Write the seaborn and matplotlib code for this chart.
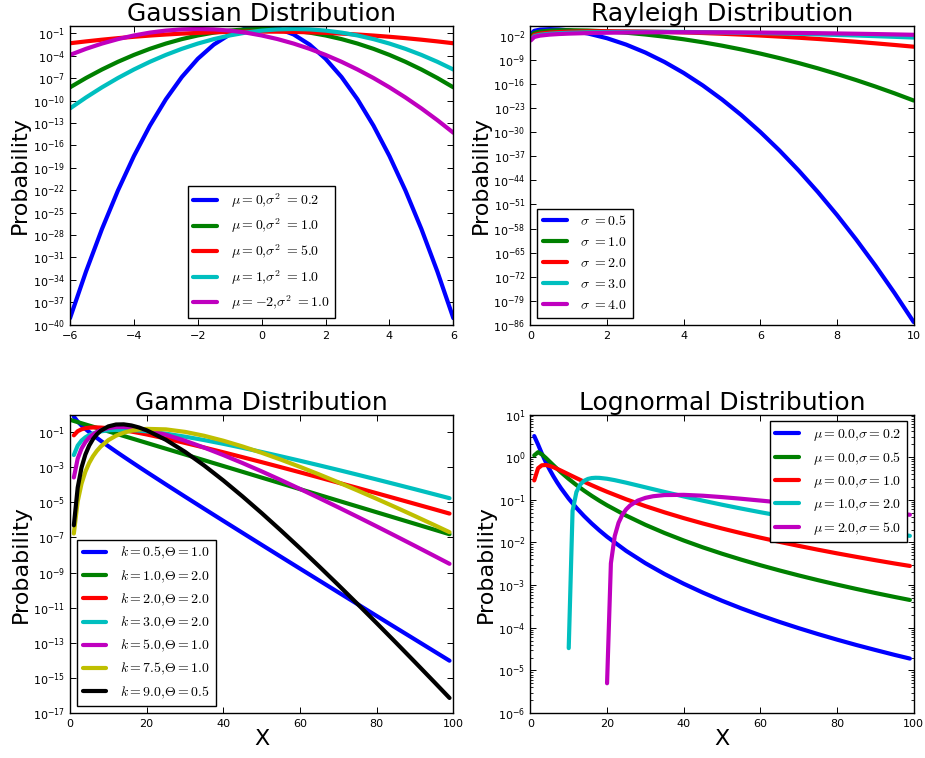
import numpy as np
import pandas as pd
import matplotlib
matplotlib.use("Agg")
import matplotlib.pyplot as plt
import seaborn as sns
from matplotlib.ticker import FixedLocator, NullLocator, LogLocator

nan = float("nan")

# ---------------- Gaussian ----------------
gauss_x = [-6.0, -5.5, -5.0, -4.5, -4.0, -3.5, -3.0, -2.5, -2.0, -1.5, -1.0, -0.5, 0.0,
           0.5, 1.0, 1.5, 2.0, 2.5, 3.0, 3.5, 4.0, 4.5, 5.0, 5.5, 6.0]
gauss_m0_v02 = [7.31e-40, 1.28e-33, 6.41e-28, 9.23e-23, 3.79e-18, 4.47e-14, 1.51e-10, 1.46e-7, 4.05e-5,
                3.22e-3, 7.32e-2, 0.477, 0.892,
                0.477, 7.32e-2, 3.22e-3, 4.05e-5, 1.46e-7, 1.51e-10, 4.47e-14, 3.79e-18, 9.23e-23,
                6.41e-28, 1.28e-33, 7.31e-40]
gauss_m0_v1 = [6.08e-9, 1.08e-7, 1.49e-6, 1.60e-5, 1.34e-4, 8.73e-4, 4.43e-3, 1.75e-2, 5.40e-2,
               0.130, 0.242, 0.352, 0.399,
               0.352, 0.242, 0.130, 5.40e-2, 1.75e-2, 4.43e-3, 8.73e-4, 1.34e-4, 1.60e-5,
               1.49e-6, 1.08e-7, 6.08e-9]
gauss_m0_v5 = [4.88e-3, 8.66e-3, 1.465e-2, 2.355e-2, 3.60e-2, 5.24e-2, 7.25e-2, 9.55e-2, 0.1196,
               0.1425, 0.1614, 0.1740, 0.1784,
               0.1740, 0.1614, 0.1425, 0.1196, 9.55e-2, 7.25e-2, 5.24e-2, 3.60e-2, 2.355e-2,
               1.465e-2, 8.66e-3, 4.88e-3]
gauss_m1_v1 = [9.13e-12, 2.67e-10, 6.08e-9, 1.08e-7, 1.49e-6, 1.60e-5, 1.34e-4, 8.73e-4, 4.43e-3,
               1.75e-2, 5.40e-2, 0.130, 0.242, 0.352, 0.399, 0.352, 0.242, 0.130, 5.40e-2,
               1.75e-2, 4.43e-3, 8.73e-4, 1.34e-4, 1.60e-5, 1.49e-6]
gauss_mm2_v1 = [1.34e-4, 8.73e-4, 4.43e-3, 1.75e-2, 5.40e-2, 0.130, 0.242, 0.352, 0.399, 0.352,
                0.242, 0.130, 5.40e-2, 1.75e-2, 4.43e-3, 8.73e-4, 1.34e-4, 1.60e-5, 1.49e-6,
                1.08e-7, 6.08e-9, 2.67e-10, 9.13e-12, 2.43e-13, 5.05e-15]
gauss_labels = [r"$\mu=0{,}\sigma^2\ =0.2$", r"$\mu=0{,}\sigma^2\ =1.0$", r"$\mu=0{,}\sigma^2\ =5.0$",
                r"$\mu=1{,}\sigma^2\ =1.0$", r"$\mu=-2{,}\sigma^2\ =1.0$"]

# ---------------- Rayleigh ----------------
ray_x = [0.01, 0.1, 0.25, 0.5, 0.75, 1.0, 1.5, 2.0, 2.5, 3.0, 3.5, 4.0, 4.5, 5.0, 5.5, 6.0,
         6.5, 7.0, 7.5, 8.0, 8.5, 9.0, 9.5, 10.0]
ray_s05 = [4.0e-2, 0.392, 0.8825, 1.213, 0.974, 0.541, 6.67e-2, 2.68e-3, 3.73e-5, 1.83e-7,
           3.21e-10, 2.03e-13, 4.64e-17, 3.86e-21, 1.17e-25, 1.29e-30, 5.21e-36, 7.70e-42,
           4.16e-48, 8.24e-55, 5.97e-62, 1.59e-69, 1.55e-77, 5.54e-86]
ray_s1 = [0.01, 0.0995, 0.2423, 0.441, 0.566, 0.6065, 0.487, 0.271, 0.110, 0.0333, 7.65e-3,
          1.34e-3, 1.80e-4, 1.86e-5, 1.48e-6, 9.14e-8, 4.35e-9, 1.60e-10, 4.58e-12, 1.01e-13,
          1.74e-15, 2.32e-17, 2.40e-19, 1.93e-21]
ray_s2 = [0.0025, 0.02497, 0.0620, 0.1212, 0.1748, 0.2206, 0.2830, 0.3033, 0.2861, 0.2435,
          0.1893, 0.1353, 0.0895, 0.0549, 0.0314, 0.01667, 8.26e-3, 3.83e-3, 1.66e-3, 6.71e-4,
          2.54e-4, 8.98e-5, 2.99e-5, 9.32e-6]
ray_s3 = [1.11e-3, 0.0111, 0.02768, 0.05479, 0.08077, 0.1051, 0.1471, 0.1779, 0.1962, 0.2022,
          0.1969, 0.1827, 0.1623, 0.1386, 0.1138, 0.0902, 0.0691, 0.0511, 0.0366, 0.0254,
          0.01707, 0.01111, 7.01e-3, 4.30e-3]
ray_s4 = [6.25e-4, 6.25e-3, 0.01559, 0.03101, 0.04606, 0.06058, 0.08738, 0.1103, 0.1286, 0.1415,
          0.1492, 0.1516, 0.1494, 0.1431, 0.1336, 0.1217, 0.1085, 0.0947, 0.0808, 0.0677,
          0.0556, 0.0448, 0.0354, 0.0275]
ray_labels = [r"$\sigma\ =0.5$", r"$\sigma\ =1.0$", r"$\sigma\ =2.0$", r"$\sigma\ =3.0$",
              r"$\sigma\ =4.0$"]

# ---------------- Gamma ----------------
gamma_x = [0, 1, 2, 3, 4, 5, 6, 7, 8, 10, 12, 14, 16, 18, 20, 25, 30, 35, 40, 45, 50, 55, 60,
           65, 70, 75, 80, 85, 90, 95, 99]
gamma_k05_t1 = [nan, 0.757, 0.3954, 0.2384, 0.1526, 0.1007, 0.0679, 0.04645, 0.03209, 0.01566,
                7.79e-3, 3.94e-3, 2.01e-3, 1.033e-3, 5.35e-4, 1.051e-4, 2.11e-5, 4.29e-6,
                8.82e-7, 1.83e-7, 3.81e-8, 7.99e-9, 1.68e-9, 3.55e-10, 7.51e-11, 1.60e-11,
                3.40e-12, 7.24e-13, 1.55e-13, 3.31e-14, 9.64e-15]
gamma_k1_t2 = [0.5, 0.4298, 0.3694, 0.3175, 0.2728, 0.2345, 0.2015, 0.1732, 0.1488, 0.1099,
               0.0812, 0.05997, 0.04428, 0.03270, 0.02415, 0.01132, 5.31e-3, 2.49e-3, 1.166e-3,
               5.47e-4, 2.56e-4, 1.202e-4, 5.63e-5, 2.64e-5, 1.238e-5, 5.81e-6, 2.72e-6,
               1.276e-6, 5.98e-7, 2.80e-7, 1.530e-7]
gamma_k2_t2 = [nan, 0.0651, 0.1119, 0.1442, 0.1653, 0.1776, 0.1831, 0.1836, 0.1803, 0.1665,
               0.1476, 0.1272, 0.1073, 0.0892, 0.0732, 0.04288, 0.02413, 0.01319, 7.07e-3,
               3.73e-3, 1.943e-3, 1.0016e-3, 5.12e-4, 2.60e-4, 1.313e-4, 6.60e-5, 3.30e-5,
               1.643e-5, 8.16e-6, 4.04e-6, 2.29e-6]
gamma_k3_t2 = [nan, 4.93e-3, 0.01696, 0.03278, 0.05010, 0.06727, 0.08324, 0.09737, 0.1093,
               0.1261, 0.1341, 0.1349, 0.1301, 0.1216, 0.1109, 0.0812, 0.0548, 0.03499,
               0.02143, 0.01271, 7.36e-3, 4.17e-3, 2.33e-3, 1.281e-3, 6.97e-4, 3.75e-4,
               2.00e-4, 1.058e-4, 5.56e-5, 2.90e-5, 1.72e-5]
gamma_k5_t1 = [nan, 2.60e-4, 3.07e-3, 0.01147, 0.02677, 0.04827, 0.07393, 0.1011, 0.1274,
               0.1697, 0.1919, 0.1940, 0.1805, 0.1577, 0.1312, 0.0704, 0.03208, 0.01305,
               4.90e-3, 1.724e-3, 5.77e-4, 1.858e-4, 5.78e-5, 1.750e-5, 5.18e-6, 1.499e-6,
               4.27e-7, 1.194e-7, 3.30e-8, 9.00e-9, 3.16e-9]
gamma_k75_t1 = [nan, 1.68e-7, 1.124e-5, 1.159e-4, 5.55e-4, 1.749e-3, 4.23e-3, 8.50e-3, 0.01496,
                0.03480, 0.0621, 0.0922, 0.1199, 0.1406, 0.1521, 0.1426, 0.1025, 0.0614,
                0.03213, 0.01518, 6.62e-3, 2.70e-3, 1.046e-3, 3.87e-4, 1.375e-4, 4.73e-5,
                1.582e-5, 5.16e-6, 1.644e-6, 5.13e-7, 2.00e-7]
gamma_k9_t05 = [nan, 4.93e-7, 6.88e-5, 9.62e-4, 5.24e-3, 0.01704, 0.03997, 0.0748, 0.1188,
                0.2107, 0.2695, 0.2752, 0.2384, 0.1820, 0.1258, 0.03623, 7.52e-3, 1.247e-3,
                1.753e-4, 2.17e-5, 2.44e-6, 2.52e-7, 2.45e-8, 2.24e-9, 1.96e-10, 1.64e-11,
                1.33e-12, 1.044e-13, 7.96e-15, 5.93e-16, 7.30e-17]
gamma_labels = [r"$k=0.5{,}\Theta=1.0$", r"$k=1.0{,}\Theta=2.0$", r"$k=2.0{,}\Theta=2.0$",
                r"$k=3.0{,}\Theta=2.0$", r"$k=5.0{,}\Theta=1.0$", r"$k=7.5{,}\Theta=1.0$",
                r"$k=9.0{,}\Theta=0.5$"]

# ---------------- Lognormal ----------------
logn_x = [1, 2, 3, 4, 5, 6, 7, 8, 10, 12, 14, 16, 18, 20, 25, 30, 35, 40, 45, 50, 55, 60, 65,
          70, 75, 80, 85, 90, 95, 99]
logn_m0_s02 = [3.127, 1.975, 1.2077, 0.7712, 0.5144, 0.3561, 0.2542, 0.1863, 0.1064, 0.06494,
               0.04166, 0.02783, 0.01922, 0.01363, 6.34e-3, 3.27e-3, 1.82e-3, 1.078e-3, 6.68e-4,
               4.30e-4, 2.86e-4, 1.96e-4, 1.372e-4, 9.81e-5, 7.14e-5, 5.28e-5, 3.96e-5, 3.02e-5,
               2.32e-5, 1.90e-5]
logn_m0_s05 = [1.099, 1.3096, 1.1613, 0.9652, 0.7899, 0.6462, 0.5314, 0.4400, 0.3084, 0.2224,
               0.1643, 0.1240, 0.0953, 0.07449, 0.04258, 0.02597, 0.01667, 0.01114, 7.68e-3,
               5.45e-3, 3.96e-3, 2.93e-3, 2.21e-3, 1.69e-3, 1.31e-3, 1.028e-3, 8.16e-4, 6.54e-4,
               5.29e-4, 4.49e-4]
logn_m0_s1 = [0.2853, 0.5496, 0.6455, 0.6549, 0.6255, 0.5807, 0.5313, 0.4826, 0.3949, 0.3231,
              0.2657, 0.2200, 0.1835, 0.1543, 0.1028, 0.0712, 0.05083, 0.03725, 0.02789, 0.02128,
              0.01651, 0.01297, 0.01034, 8.33e-3, 6.78e-3, 5.56e-3, 4.61e-3, 3.84e-3, 3.22e-3,
              2.82e-3]
logn_x_m1 = [10, 11, 12, 13, 14, 15, 16, 17, 18, 20, 22, 25, 30, 35, 40, 45, 50, 55, 60, 65, 70,
             75, 80, 85, 90, 95, 99]
logn_m1_s2 = [3.34e-5, 0.05508, 0.1518, 0.2283, 0.2788, 0.3086, 0.3237, 0.3287, 0.3270, 0.3118,
              0.2891, 0.2521, 0.1965, 0.1530, 0.1202, 0.09549, 0.07677, 0.06239, 0.05123,
              0.04246, 0.03548, 0.02988, 0.02534, 0.02162, 0.01857, 0.01603, 0.01431]
logn_x_m2 = [20, 21, 22, 23, 24, 25, 26, 28, 30, 32, 35, 40, 45, 50, 55, 60, 65, 70, 75, 80, 85,
             90, 95, 99]
logn_m2_s5 = [5.01e-6, 3.258e-3, 0.01409, 0.02900, 0.04487, 0.05996, 0.07361, 0.09567, 0.1112,
              0.1214, 0.1294, 0.1308, 0.1248, 0.1158, 0.1059, 0.09613, 0.08701, 0.07866,
              0.07112, 0.06435, 0.05831, 0.05292, 0.04812, 0.04466]
logn_labels = [r"$\mu=0.0{,}\sigma=0.2$", r"$\mu=0.0{,}\sigma=0.5$", r"$\mu=0.0{,}\sigma=1.0$",
               r"$\mu=1.0{,}\sigma=2.0$", r"$\mu=2.0{,}\sigma=5.0$"]

# ---------------- style ----------------
sns.set_style("white")
plt.rcParams["font.family"] = ["DejaVu Sans"]
plt.rcParams["mathtext.fontset"] = "cm"
plt.rcParams["axes.edgecolor"] = "black"
plt.rcParams["axes.linewidth"] = 1.0
plt.rcParams["text.color"] = "black"
plt.rcParams["axes.labelcolor"] = "black"
plt.rcParams["xtick.color"] = "black"
plt.rcParams["ytick.color"] = "black"

colors = [(0, 0, 1), (0, 0.5, 0), (1, 0, 0), (0, 0.75, 0.75), (0.75, 0, 0.75),
          (0.75, 0.75, 0), (0, 0, 0)]

fig, axes = plt.subplots(2, 2, figsize=(9.25, 7.58), dpi=100)
fig.subplots_adjust(left=0.0757, right=0.9878, top=0.9657, bottom=0.0592,
                    wspace=0.201, hspace=0.301)


def draw(ax, xs, ys, labels):
    ax.set_yscale("log")
    for i, (x, y, lab) in enumerate(zip(xs, ys, labels)):
        df = pd.DataFrame({"x": x, "y": y}).dropna()
        sns.lineplot(data=df, x="x", y="y", ax=ax, color=colors[i], linewidth=3,
                     label=lab, estimator=None, sort=False)


def finish(ax, title, xlim, ylim, yticks, xticks, legend_loc, xlabel=None, minor=False):
    ax.set_xlim(*xlim)
    ax.set_ylim(*ylim)
    ax.yaxis.set_major_locator(FixedLocator(yticks))
    if minor:
        ax.yaxis.set_minor_locator(LogLocator(base=10, subs=np.arange(2, 10)))
    else:
        ax.yaxis.set_minor_locator(NullLocator())
    ax.set_xticks(xticks)
    ax.xaxis.set_minor_locator(NullLocator())
    ax.tick_params(which="both", direction="in", top=True, right=True, bottom=True,
                   left=True, labelsize=8, color="black", labelcolor="black")
    ax.tick_params(which="major", length=4.5, width=0.7)
    ax.tick_params(which="minor", length=2.5, width=0.6)
    ax.tick_params(axis="x", pad=4.5)
    ax.set_title(title, fontsize=18, pad=3, color="black")
    ax.set_ylabel("Probability", fontsize=16, labelpad=2)
    if xlabel:
        ax.set_xlabel(xlabel, fontsize=16, labelpad=0)
    else:
        ax.set_xlabel("")
    for s in ax.spines.values():
        s.set_color("black")
        s.set_linewidth(1.0)
    leg = ax.legend(loc=legend_loc, fontsize=10, handlelength=1.7, handletextpad=1.0,
                    borderpad=0.4, labelspacing=0.5, borderaxespad=0.5, fancybox=False,
                    framealpha=1, edgecolor="black")
    leg.get_frame().set_linewidth(1.0)


ax = axes[0, 0]
draw(ax, [gauss_x] * 5, [gauss_m0_v02, gauss_m0_v1, gauss_m0_v5, gauss_m1_v1, gauss_mm2_v1],
     gauss_labels)
finish(ax, "Gaussian Distribution", (-6, 6), (1e-40, 1.0),
       [10.0 ** e for e in range(-40, 0, 3)], [-6, -4, -2, 0, 2, 4, 6], "lower center")

ax = axes[0, 1]
draw(ax, [ray_x] * 5, [ray_s05, ray_s1, ray_s2, ray_s3, ray_s4], ray_labels)
finish(ax, "Rayleigh Distribution", (0, 10), (1e-86, 10.0),
       [10.0 ** e for e in range(-86, 0, 7)], [0, 2, 4, 6, 8, 10], "lower left")

ax = axes[1, 0]
draw(ax, [gamma_x] * 7, [gamma_k05_t1, gamma_k1_t2, gamma_k2_t2, gamma_k3_t2, gamma_k5_t1,
                         gamma_k75_t1, gamma_k9_t05], gamma_labels)
finish(ax, "Gamma Distribution", (0, 100), (1e-17, 1.0),
       [10.0 ** e for e in range(-17, 0, 2)], [0, 20, 40, 60, 80, 100], "lower left", xlabel="X")

ax = axes[1, 1]
draw(ax, [logn_x, logn_x, logn_x, logn_x_m1, logn_x_m2],
     [logn_m0_s02, logn_m0_s05, logn_m0_s1, logn_m1_s2, logn_m2_s5], logn_labels)
finish(ax, "Lognormal Distribution", (0, 100), (1e-6, 10.0),
       [10.0 ** e for e in range(-6, 2)], [0, 20, 40, 60, 80, 100], "upper right", xlabel="X",
       minor=True)

fig.savefig("out.png", dpi=100)
